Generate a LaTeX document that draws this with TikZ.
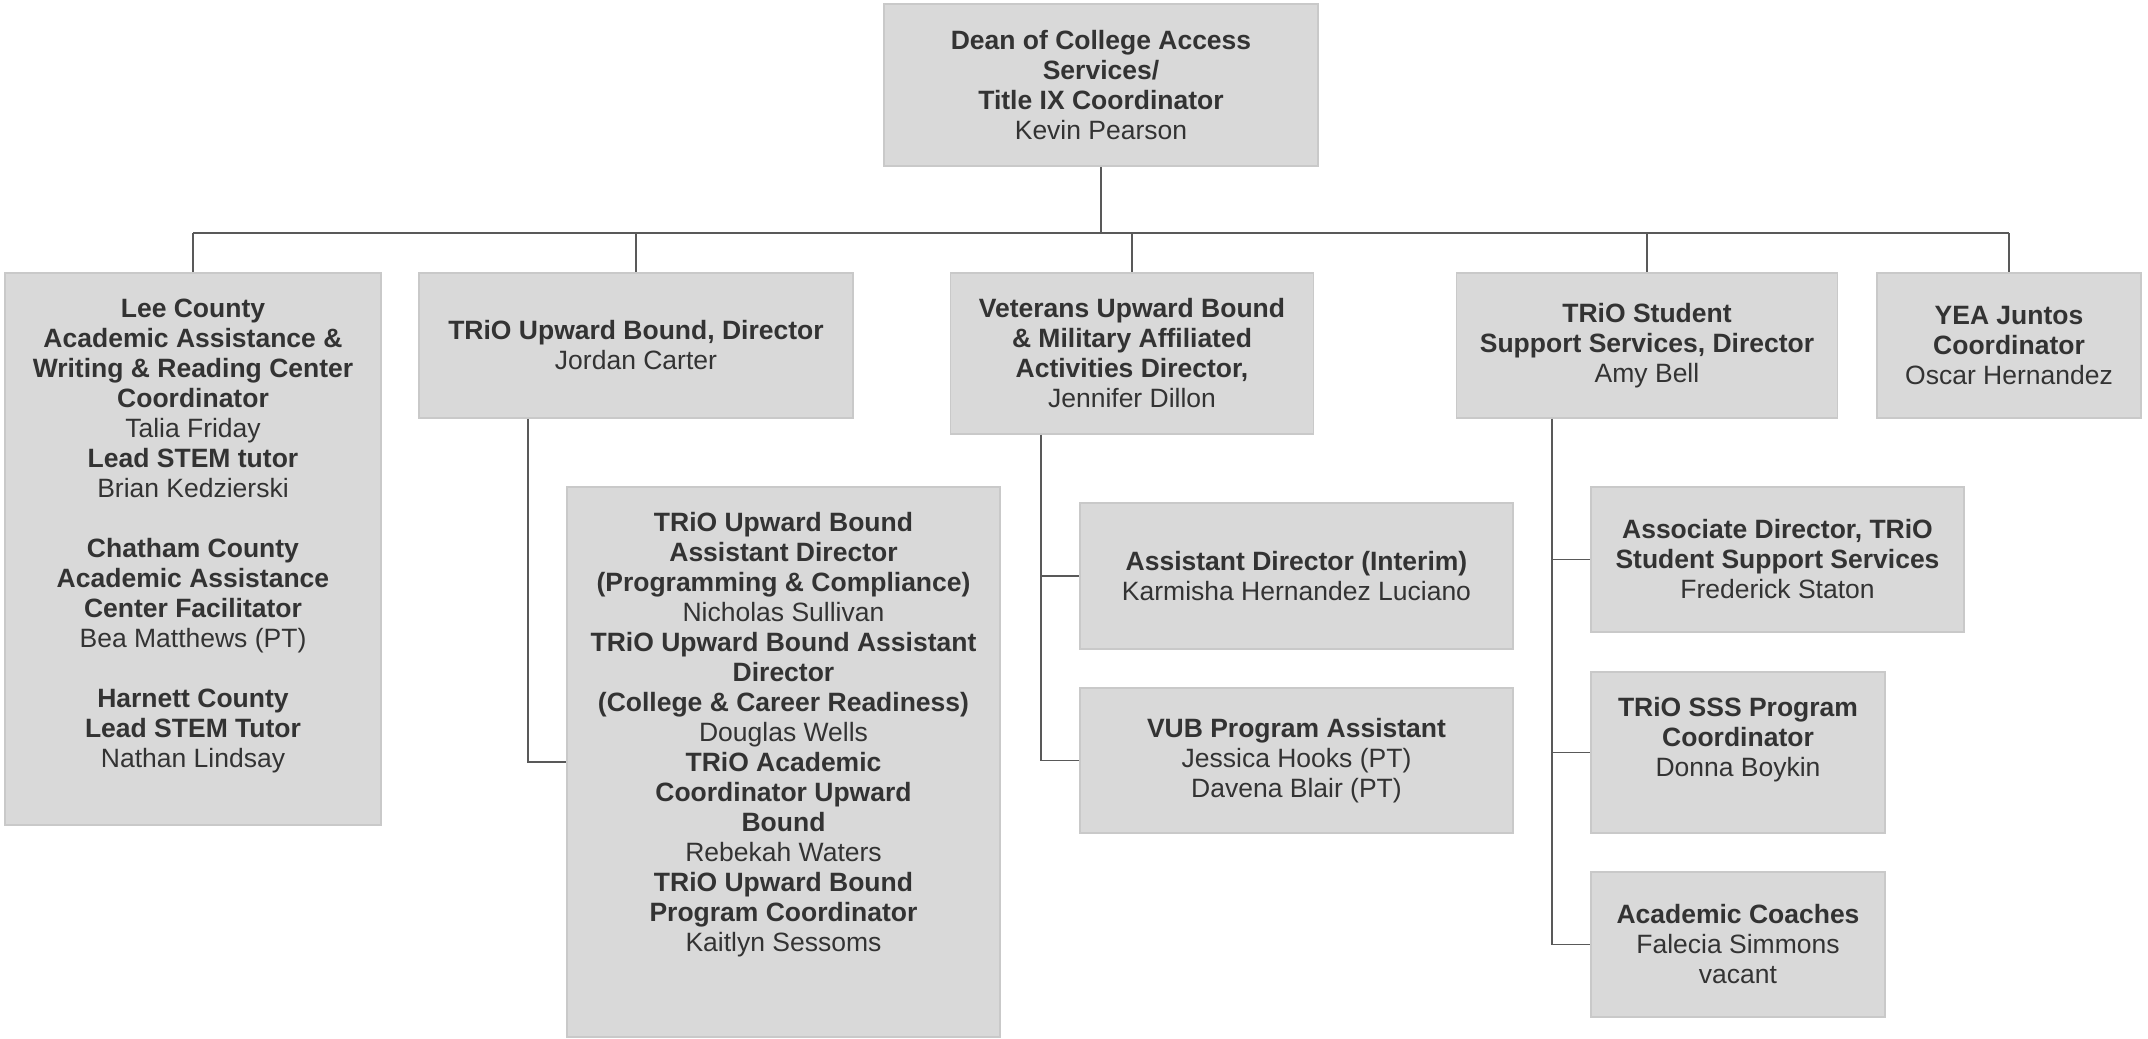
\documentclass[tikz,border=0pt]{standalone}
\usepackage{fontspec}
\setmainfont{Liberation Sans}
\definecolor{boxfill}{HTML}{D9D9D9}
\definecolor{boxline}{HTML}{C9C9C9}
\definecolor{connline}{HTML}{595959}
\definecolor{txt}{HTML}{333333}
\tikzset{
  box/.style={draw=boxline, fill=boxfill, line width=1.5pt, inner sep=0pt, align=center,
              text=txt, font=\fontsize{26.5}{30}\selectfont},
  txtnode/.style={inner sep=0pt, align=center, text=txt, font=\fontsize{26.5}{30}\selectfont},
  conn/.style={draw=connline, line width=1.6pt}
}
\begin{document}
\begin{tikzpicture}[x=1pt,y=-1pt]
\useasboundingbox[fill=white] (0,0) rectangle (2148,1039);

% top
\node[box, minimum width=434pt, minimum height=162pt] (dean) at (1101,85)
  {\textbf{Dean of College Access}\\\textbf{Services/}\\\textbf{Title IX Coordinator}\\Kevin Pearson};

% second row
\node[box, minimum width=376pt, minimum height=552pt] (lee) at (193,549) {};
\node[txtnode, yshift=13pt] (leet) at (lee.center)
  {\textbf{Lee County}\\\textbf{Academic Assistance \&}\\\textbf{Writing \& Reading Center}\\\textbf{Coordinator}\\Talia Friday\\\textbf{Lead STEM tutor}\\Brian Kedzierski\\[30pt]
   \textbf{Chatham County}\\\textbf{Academic Assistance}\\\textbf{Center Facilitator}\\Bea Matthews (PT)\\[30pt]
   \textbf{Harnett County}\\\textbf{Lead STEM Tutor}\\Nathan Lindsay};

\node[box, minimum width=434pt, minimum height=145pt] (ubd) at (636,345.5)
  {\textbf{TRiO Upward Bound, Director}\\Jordan Carter};

\node[box, minimum width=363pt, minimum height=161pt] (vet) at (1132,353.5)
  {\textbf{Veterans Upward Bound}\\\textbf{\& Military Affiliated}\\\textbf{Activities Director,}\\Jennifer Dillon};

\node[box, minimum width=381pt, minimum height=145pt] (sss) at (1647,345.5)
  {\textbf{TRiO Student}\\\textbf{Support Services, Director}\\Amy Bell};

\node[box, minimum width=264pt, minimum height=145pt] (yea) at (2009,345.5)
  {\textbf{YEA Juntos}\\\textbf{Coordinator}\\Oscar Hernandez};

% Upward Bound staff
\node[box, minimum width=433pt, minimum height=550pt] (ubsub) at (783.5,762) {};
\node[txtnode, yshift=27pt] (ubsubt) at (ubsub.center)
  {\textbf{TRiO Upward Bound}\\\textbf{Assistant Director}\\\textbf{(Programming \& Compliance)}\\Nicholas Sullivan\\
   \textbf{TRiO Upward Bound Assistant}\\\textbf{Director}\\\textbf{(College \& Career Readiness)}\\Douglas Wells\\
   \textbf{TRiO Academic}\\\textbf{Coordinator Upward}\\\textbf{Bound}\\Rebekah Waters\\
   \textbf{TRiO Upward Bound}\\\textbf{Program Coordinator}\\Kaitlyn Sessoms};

% Veterans staff
\node[box, minimum width=433pt, minimum height=146pt] (asst) at (1296.5,576)
  {\textbf{Assistant Director (Interim)}\\Karmisha Hernandez Luciano};
\node[box, minimum width=433pt, minimum height=145pt] (vub) at (1296.5,760.5)
  {\textbf{VUB Program Assistant}\\Jessica Hooks (PT)\\Davena Blair (PT)};

% SSS staff
\node[box, minimum width=373pt, minimum height=145pt] (assoc) at (1777.5,559.5)
  {\textbf{Associate Director, TRiO}\\\textbf{Student Support Services}\\Frederick Staton};
\node[box, minimum width=294pt, minimum height=161pt] (sssp) at (1738,752.5) {};
\node[txtnode, yshift=12.5pt] (ssspt) at (sssp.center)
  {\textbf{TRiO SSS Program}\\\textbf{Coordinator}\\Donna Boykin};
\node[box, minimum width=294pt, minimum height=145pt] (coach) at (1738,944.5)
  {\textbf{Academic Coaches}\\Falecia Simmons\\vacant};

% connectors
\coordinate (bus) at (1101,233);
\draw[conn] (dean.south) -- (bus);
\draw[conn] (lee.north |- bus) -- (yea.north |- bus);
\draw[conn] (lee.north |- bus) -- (lee.north);
\draw[conn] (ubd.north |- bus) -- (ubd.north);
\draw[conn] (vet.north |- bus) -- (vet.north);
\draw[conn] (sss.north |- bus) -- (sss.north);
\draw[conn] (yea.north |- bus) -- (yea.north);

\coordinate (ubx) at ([xshift=-108pt]ubd.south);
\draw[conn] (ubx) |- (ubsub.west);

\coordinate (vetx) at ([xshift=-91pt]vet.south);
\draw[conn] (vetx) |- (asst.west);
\draw[conn] (vetx) |- (vub.west);

\coordinate (sssx) at ([xshift=-95pt]sss.south);
\draw[conn] (sssx) |- (assoc.west);
\draw[conn] (sssx) |- (sssp.west);
\draw[conn] (sssx) |- (coach.west);
\end{tikzpicture}
\end{document}
